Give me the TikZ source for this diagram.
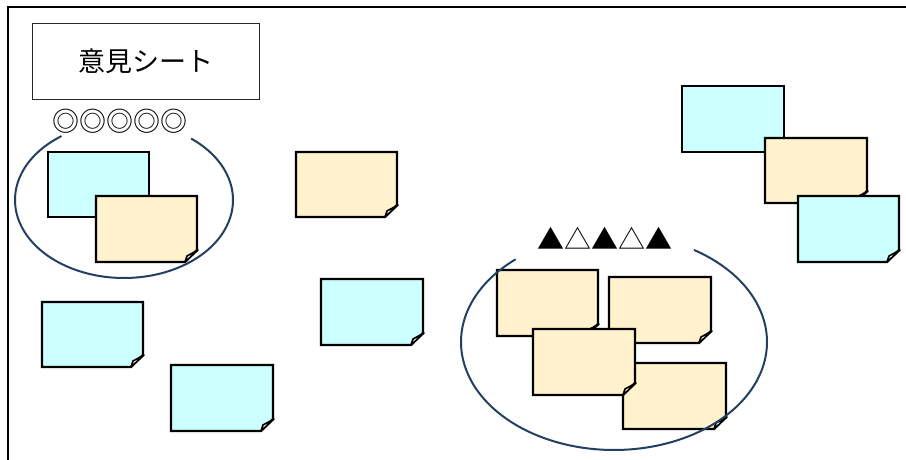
\documentclass[tikz,border=0pt]{standalone}
\usepackage{fontspec}
\newfontfamily\jpfont{Noto Sans CJK JP}
\definecolor{notecyan}{RGB}{204,255,255}
\definecolor{notecream}{RGB}{255,242,204}
\definecolor{ringblue}{RGB}{36,64,97}
\tikzset{
  noteline/.style={draw=black, line width=2.4pt, line join=miter},
  flapline/.style={draw=black, fill=white, line width=1.6pt, line join=round},
  ringline/.style={draw=ringblue, line width=2pt},
  framebox/.style={draw=black, line width=2.2pt},
  titlebox/.style={draw=black!85, line width=0.9pt, fill=white, minimum width=227pt, minimum height=76pt, inner sep=0pt},
  marktext/.style={inner sep=0pt, font=\jpfont\fontsize{27pt}{27pt}\selectfont}
}
% plain note: x0 y0 x1 y1 colour
\newcommand\flatnote[5]{%
  \filldraw[noteline, fill=#5] (#1,#2) rectangle (#3,#4);}
% curled note: x0 y0 x1 y1 colour
\newcommand\curlnote[5]{%
  \filldraw[noteline, fill=#5] (#1,#2) -- (#3,#2) -- (#3,#4-12) -- (#3-12,#4) -- (#1,#4) -- cycle;
  \filldraw[flapline] (#3-12,#4) -- (#3-10,#4-6) -- (#3+1,#4-12) -- cycle;}
\begin{document}
\begin{tikzpicture}[x=1pt, y=-1pt]
\useasboundingbox (0,0) rectangle (906,459);
\clip (0,0) rectangle (906,459);
\fill[white] (0,0) rectangle (906,459);
\draw[framebox] (8,7) rectangle (940,490);

% title
\node[titlebox] (title) at (145.5,61) {\jpfont\fontsize{27pt}{27pt}\selectfont 意見シート};
\node[marktext] (rating1) at (120,121) {◎◎◎◎◎};

% left group
\flatnote{48}{152}{149}{217}{notecyan}
\curlnote{96}{196}{197}{262}{notecream}
\draw[ringline] plot[domain=-52:235, samples=150, smooth] ({124+109*cos(\x)}, {200+78*sin(\x)});

% loose notes
\curlnote{296}{152}{397}{217}{notecream}
\curlnote{321}{279}{423}{345}{notecyan}
\curlnote{42}{302}{143}{367}{notecyan}
\curlnote{171}{365}{273}{431}{notecyan}

% top-right group
\flatnote{682}{86}{784}{152}{notecyan}
\curlnote{765}{138}{867}{203}{notecream}
\curlnote{798}{196}{899}{262}{notecyan}

% right group
\node[marktext] (rating2) at (604.5,238) {▲△▲△▲};
\curlnote{497}{270}{598}{336}{notecream}
\curlnote{609}{277}{711}{343}{notecream}
\curlnote{623}{363}{726}{429}{notecream}
\curlnote{533}{329}{635}{395}{notecream}
\draw[ringline] plot[domain=-58.5:230, samples=200, smooth] ({614+153*cos(\x)}, {342+108*sin(\x)});
\end{tikzpicture}
\end{document}
